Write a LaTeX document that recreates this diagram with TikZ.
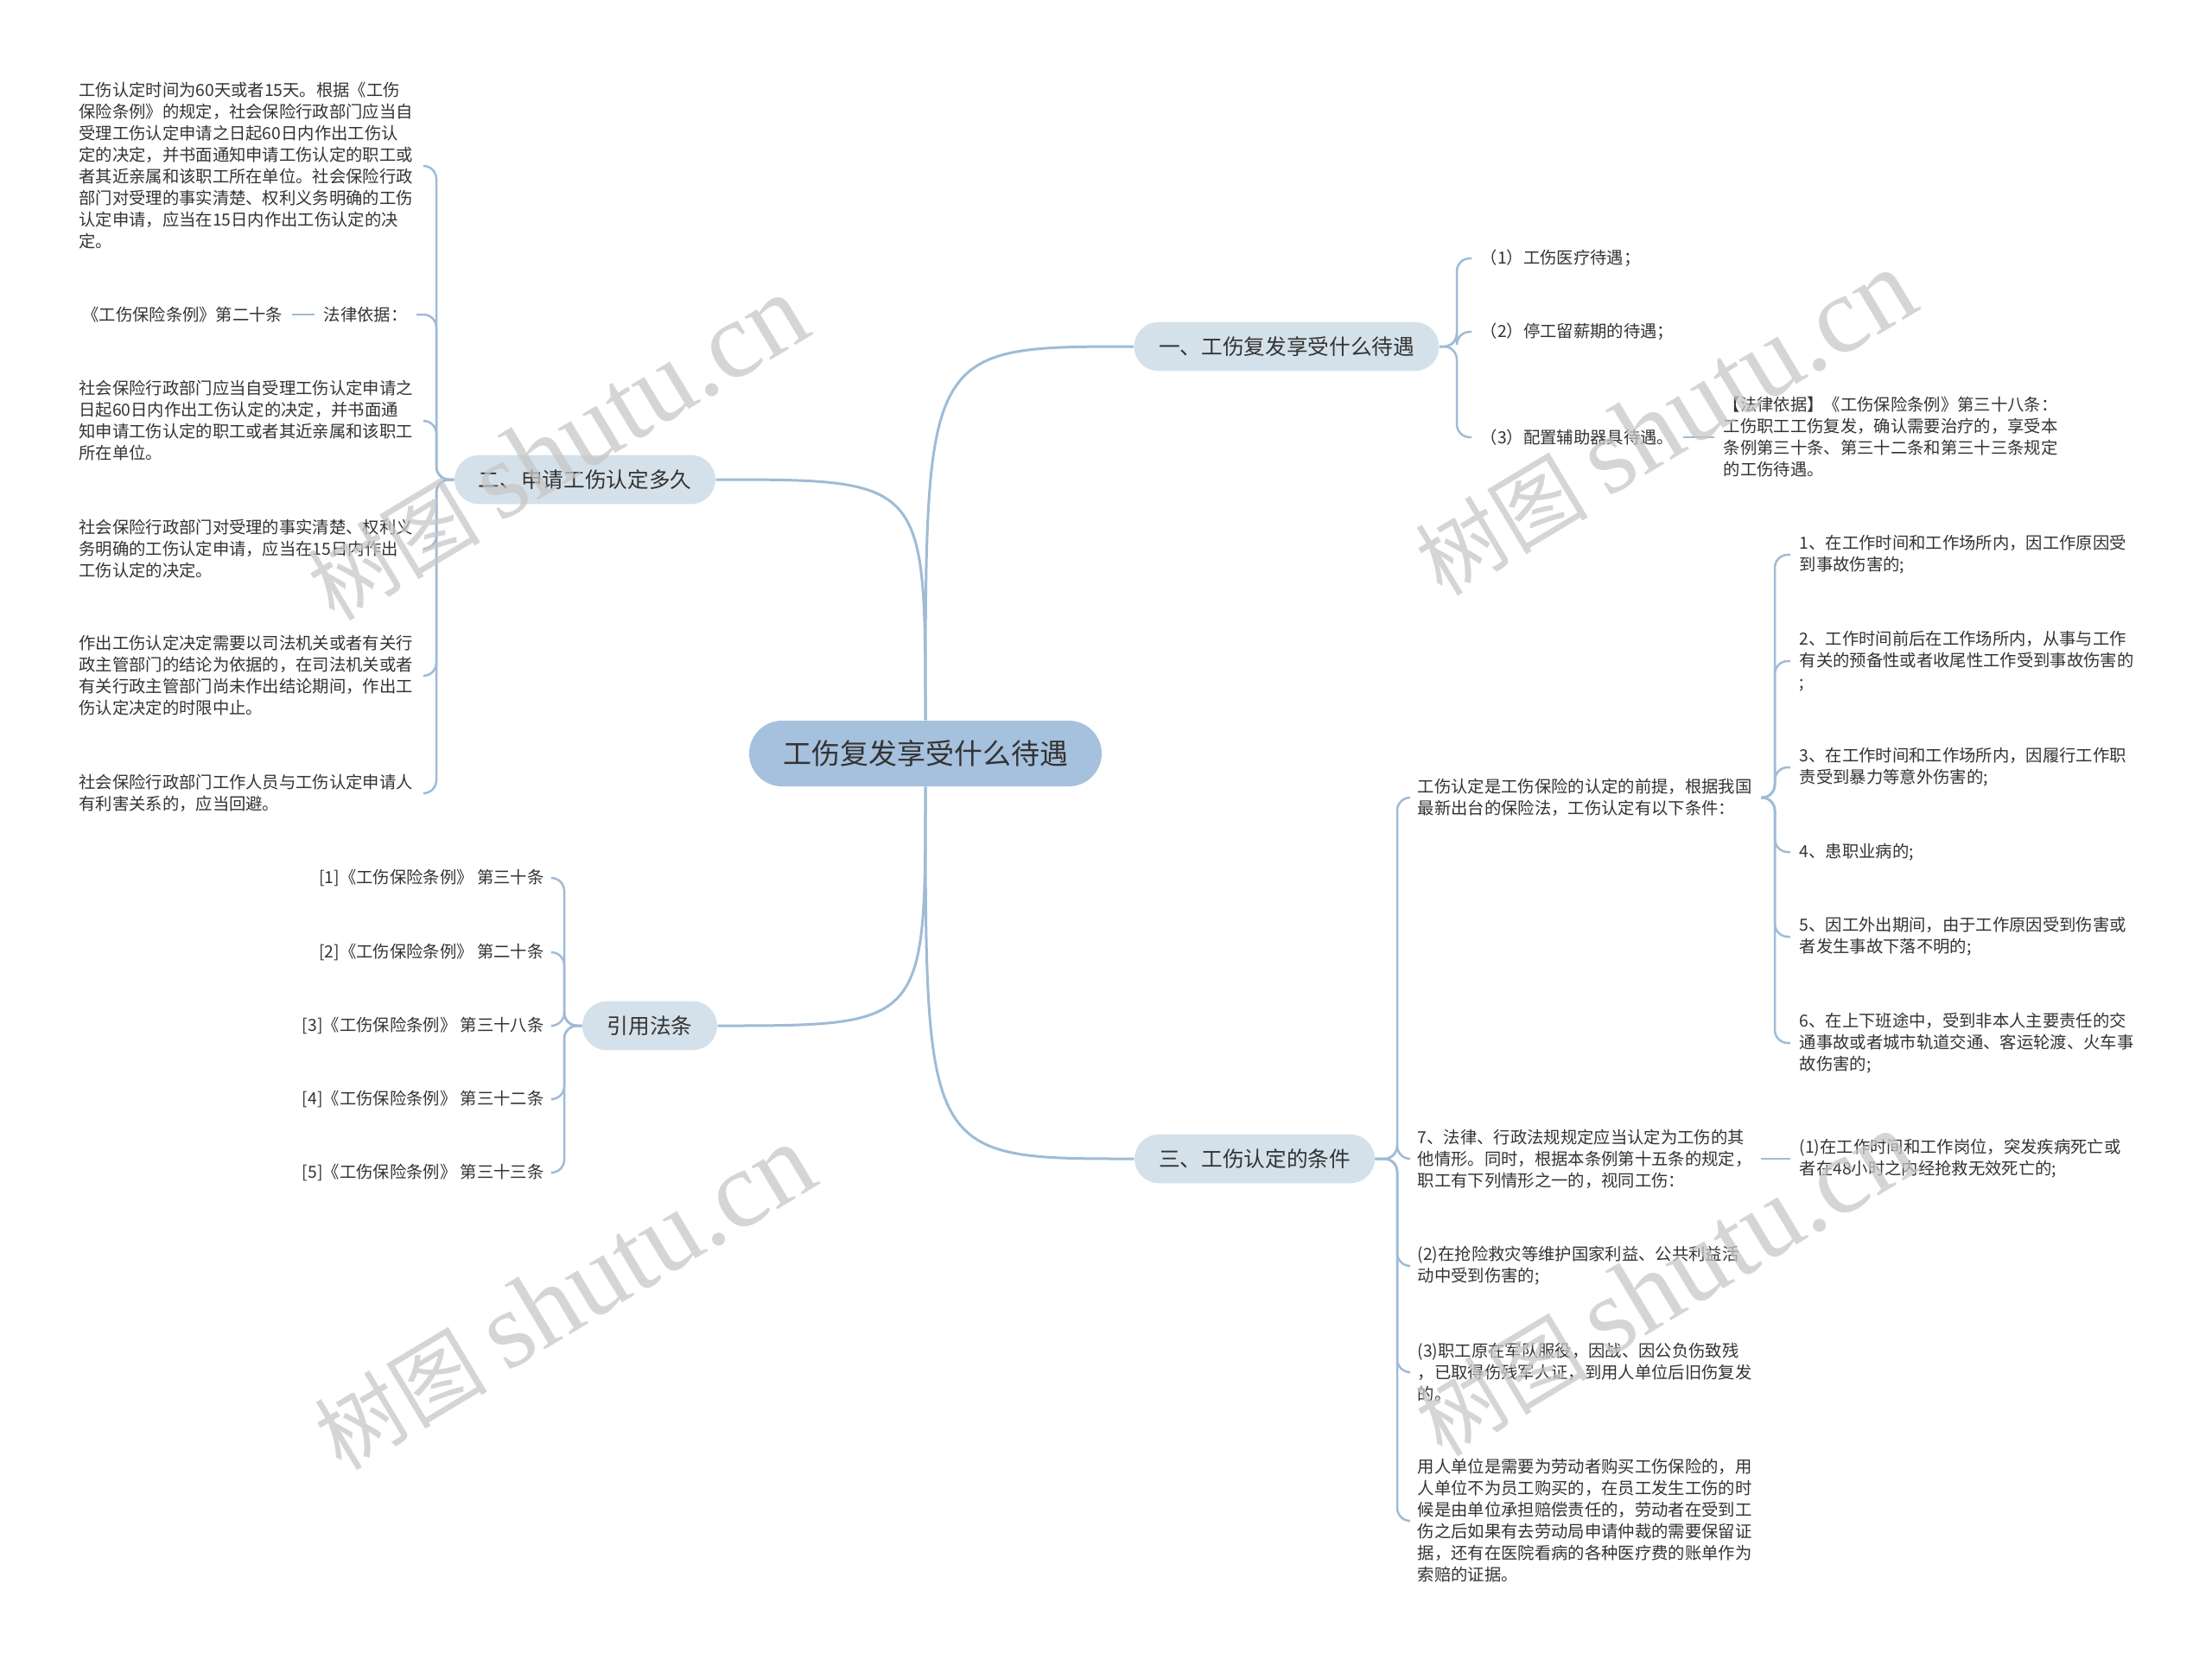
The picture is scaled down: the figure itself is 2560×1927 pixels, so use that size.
\documentclass[tikz,border=0pt]{standalone}
\usepackage{fontspec}
\setmainfont{Noto Sans CJK SC}
\newfontfamily\wmserif{Liberation Serif}
\definecolor{lk}{HTML}{9FBBD6}
\definecolor{cfill}{HTML}{A6C1DD}
\definecolor{bfill}{HTML}{D5E1EA}
\definecolor{txt}{HTML}{333333}
\begin{document}
\begin{tikzpicture}[x=0.3pt,y=-0.3pt,
  link/.style={draw=lk, line width=0.9pt},
  hook/.style={draw=lk, line width=0.75pt, rounded corners=4.5pt},
  centre/.style={fill=cfill, rounded corners=11.4pt, minimum width=122.4pt, minimum height=22.8pt, font=\fontsize{9.9pt}{11pt}\selectfont, text=txt, inner sep=0pt},
  topic/.style={fill=bfill, minimum height=17pt, rounded corners=8.5pt, font=\fontsize{7.4pt}{9pt}\selectfont, text=txt, inner sep=0pt},
  leaf/.style={font=\fontsize{5.8pt}{7.5pt}\selectfont, text=txt, inner xsep=3pt, inner ysep=1pt, align=left},
  rleaf/.style={leaf, anchor=west},
  lleaf/.style={leaf, anchor=east},
  lblock/.style={lleaf, text width=117pt},
  wm/.style={text=black!22, opacity=0.75, rotate=31, inner sep=0pt}
]
\useasboundingbox (0,0) rectangle (2560,1927);
\fill[white] (0,0) rectangle (2560,1927);

% centre and topics
\node[centre] (c) at (1071,872) {工伤复发享受什么待遇};
\node[topic, minimum width=105.9pt] (b1) at (1489,401) {一、工伤复发享受什么待遇};
\node[topic, minimum width=90.6pt] (b2) at (677,555) {二、申请工伤认定多久};
\node[topic, minimum width=46.8pt] (b3) at (752,1187) {引用法条};
\node[topic, minimum width=83.4pt] (b4) at (1452,1341) {三、工伤认定的条件};

% branch 1 children
\node[rleaf] (c11) at (1703,299) {（1）工伤医疗待遇；};
\node[rleaf] (c12) at (1703,384) {（2）停工留薪期的待遇；};
\node[rleaf] (c13) at (1703,506) {（3）配置辅助器具待遇。};
\node[rleaf] (law) at (1984,506) {【法律依据】《工伤保险条例》第三十八条：\\工伤职工工伤复发，确认需要治疗的，享受本\\条例第三十条、第三十二条和第三十三条规定\\的工伤待遇。};

% branch 2 children
\node[lblock] (L1) at (492,192) {工伤认定时间为60天或者15天。根据《工伤\\保险条例》的规定，社会保险行政部门应当自\\受理工伤认定申请之日起60日内作出工伤认\\定的决定，并书面通知申请工伤认定的职工或\\者其近亲属和该职工所在单位。社会保险行政\\部门对受理的事实清楚、权利义务明确的工伤\\认定申请，应当在15日内作出工伤认定的决\\定。};
\node[lleaf] (L2) at (482,364) {法律依据：};
\node[lleaf] (L2b) at (338,364) {《工伤保险条例》第二十条};
\node[lblock] (L3) at (492,487) {社会保险行政部门应当自受理工伤认定申请之\\日起60日内作出工伤认定的决定，并书面通\\知申请工伤认定的职工或者其近亲属和该职工\\所在单位。};
\node[lblock] (L4) at (492,635) {社会保险行政部门对受理的事实清楚、权利义\\务明确的工伤认定申请，应当在15日内作出\\工伤认定的决定。};
\node[lblock] (L5) at (492,782) {作出工伤认定决定需要以司法机关或者有关行\\政主管部门的结论为依据的，在司法机关或者\\有关行政主管部门尚未作出结论期间，作出工\\伤认定决定的时限中止。};
\node[lblock] (L6) at (492,918) {社会保险行政部门工作人员与工伤认定申请人\\有利害关系的，应当回避。};

% branch 3 children
\node[lleaf] (r1) at (640,1016) {[1]《工伤保险条例》 第三十条};
\node[lleaf] (r2) at (640,1102) {[2]《工伤保险条例》 第二十条};
\node[lleaf] (r3) at (640,1187) {[3]《工伤保险条例》 第三十八条};
\node[lleaf] (r4) at (640,1272) {[4]《工伤保险条例》 第三十二条};
\node[lleaf] (r5) at (640,1357) {[5]《工伤保险条例》 第三十三条};

% branch 4 children
\node[rleaf] (A) at (1630,923) {工伤认定是工伤保险的认定的前提，根据我国\\最新出台的保险法，工伤认定有以下条件：};
\node[rleaf] (B) at (1630,1341) {7、法律、行政法规规定应当认定为工伤的其\\他情形。同时，根据本条例第十五条的规定，\\职工有下列情形之一的，视同工伤：};
\node[rleaf] (C) at (1630,1465) {(2)在抢险救灾等维护国家利益、公共利益活\\动中受到伤害的;};
\node[rleaf] (D) at (1630,1588) {(3)职工原在军队服役，因战、因公负伤致残\\，已取得伤残军人证，到用人单位后旧伤复发\\的。};
\node[rleaf] (E) at (1630,1760) {用人单位是需要为劳动者购买工伤保险的，用\\人单位不为员工购买的，在员工发生工伤的时\\候是由单位承担赔偿责任的，劳动者在受到工\\伤之后如果有去劳动局申请仲裁的需要保留证\\据，还有在医院看病的各种医疗费的账单作为\\索赔的证据。};

\node[rleaf] (a1) at (2072,642) {1、在工作时间和工作场所内，因工作原因受\\到事故伤害的;};
\node[rleaf] (a2) at (2072,765) {2、工作时间前后在工作场所内，从事与工作\\有关的预备性或者收尾性工作受到事故伤害的\\;};
\node[rleaf] (a3) at (2072,888) {3、在工作时间和工作场所内，因履行工作职\\责受到暴力等意外伤害的;};
\node[rleaf] (a4) at (2072,986) {4、患职业病的;};
\node[rleaf] (a5) at (2072,1084) {5、因工外出期间，由于工作原因受到伤害或\\者发生事故下落不明的;};
\node[rleaf] (a6) at (2072,1207) {6、在上下班途中，受到非本人主要责任的交\\通事故或者城市轨道交通、客运轮渡、火车事\\故伤害的;};
\node[rleaf] (b41) at (2072,1341) {(1)在工作时间和工作岗位，突发疾病死亡或\\者在48小时之内经抢救无效死亡的;};

% spine points
\coordinate (s1) at (1686,401);
\coordinate (s2) at (505,555);
\coordinate (s3) at (653,1187);
\coordinate (s4) at (1617,1341);
\coordinate (sA) at (2054,923);

% main connectors
\draw[link] (c.north) .. controls (c.north |- b1.west) .. (b1.west);
\draw[link] (c.north) .. controls (c.north |- b2.east) .. (b2.east);
\draw[link] (c.south) .. controls (c.south |- b3.east) .. (b3.east);
\draw[link] (c.south) .. controls (c.south |- b4.west) .. (b4.west);

% branch 1
\foreach \n in {c11,c12,c13} \draw[hook] (b1.east) -- (s1) |- (\n.west);
\draw[hook] (c13.east) -- (law.west);

% branch 2
\foreach \n in {L1,L2,L3,L4,L5,L6} \draw[hook] (b2.west) -- (s2) |- (\n.east);
\draw[hook] (L2.west) -- (L2b.east);

% branch 3
\foreach \n in {r1,r2,r3,r4,r5} \draw[hook] (b3.west) -- (s3) |- (\n.east);

% branch 4
\foreach \n in {A,B,C,D,E} \draw[hook] (b4.east) -- (s4) |- (\n.west);
\foreach \n in {a1,a2,a3,a4,a5,a6} \draw[hook] (A.east) -- (sA) |- (\n.west);
\draw[hook] (B.east) -- (b41.west);

% watermarks
\node[wm] (w1) at (645,519) {\fontsize{30pt}{30pt}\selectfont 树图 {\wmserif\fontsize{38pt}{38pt}\selectfont shutu.cn}};
\node[wm] (w2) at (1927,490) {\fontsize{30pt}{30pt}\selectfont 树图 {\wmserif\fontsize{38pt}{38pt}\selectfont shutu.cn}};
\node[wm] (w3) at (653,1502) {\fontsize{30pt}{30pt}\selectfont 树图 {\wmserif\fontsize{38pt}{38pt}\selectfont shutu.cn}};
\node[wm] (w4) at (1927,1486) {\fontsize{30pt}{30pt}\selectfont 树图 {\wmserif\fontsize{38pt}{38pt}\selectfont shutu.cn}};
\end{tikzpicture}
\end{document}
